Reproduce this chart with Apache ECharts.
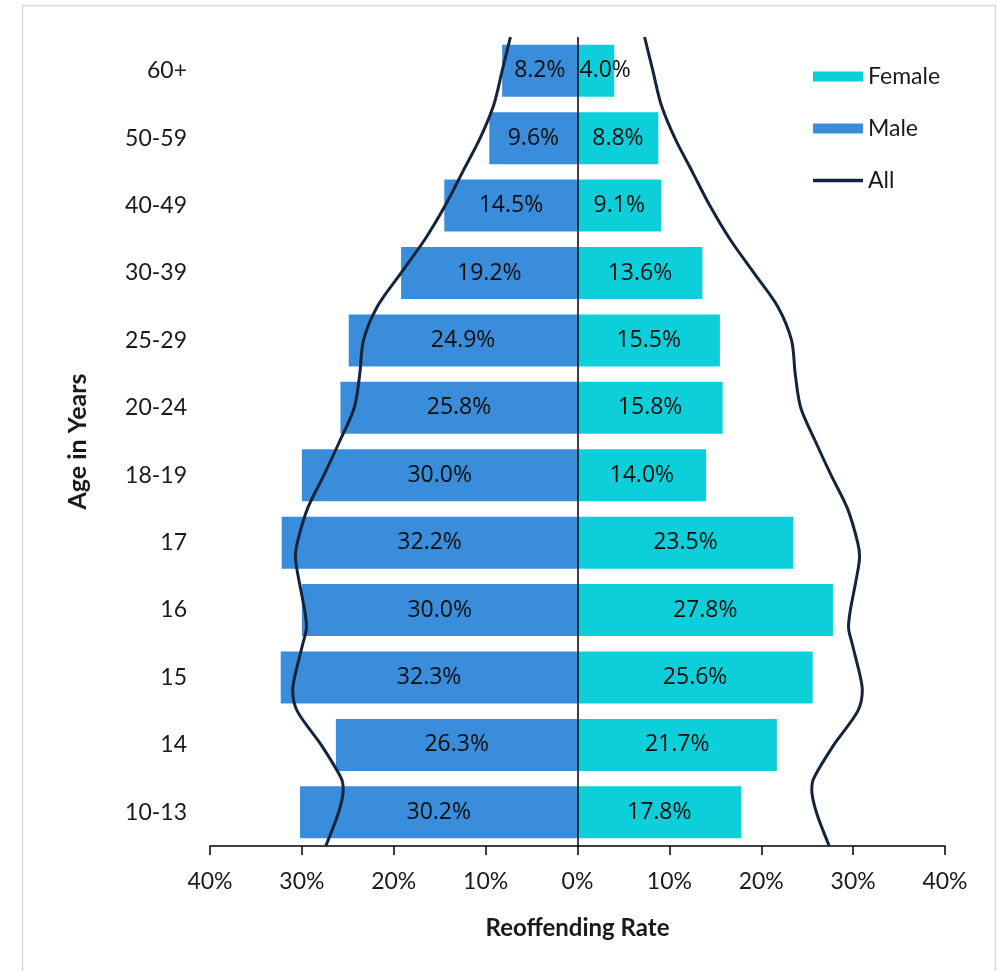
<!DOCTYPE html>
<html>
<head>
<meta charset="utf-8">
<script src="https://cdn.jsdelivr.net/npm/echarts@6/dist/echarts.min.js"></script>
<style>
  html, body { margin: 0; padding: 0; background: #ffffff; }
  #chart { width: 997px; height: 971px; }
</style>
</head>
<body>
<div id="chart"></div>
<script>
// Age groups, top to bottom
const ageGroups = ['60+', '50-59', '40-49', '30-39', '25-29', '20-24', '18-19', '17', '16', '15', '14', '10-13'];
// Reoffending rates (%)
const maleRate   = [8.2, 9.6, 14.5, 19.2, 24.9, 25.8, 30.0, 32.2, 30.0, 32.3, 26.3, 30.2];
const femaleRate = [4.0, 8.8, 9.1, 13.6, 15.5, 15.8, 14.0, 23.5, 27.8, 25.6, 21.7, 17.8];

// Overall rate curve: vertical position in age bands (0 = bottom edge, 12 = top edge) and rate (%)
const allPos  = [0, 0.5, 0.83, 1, 1.5, 2, 2.31, 2.5, 3, 3.25, 3.5, 4, 4.29, 4.5, 5, 5.5, 6, 6.5, 7, 7.5, 8, 8.5, 9, 9.5, 10, 10.5, 11, 11.5, 12];
const allRate = [27.4, 26.0, 25.5, 25.7, 27.9, 30.5, 31.0, 30.8, 29.9, 29.5, 29.7, 30.4, 30.7, 30.5, 29.4, 27.6, 25.9, 24.3, 23.7, 23.3, 21.8, 19.2, 16.6, 14.4, 12.5, 10.6, 9.1, 8.2, 7.3];

// Axis ticks (%)
const rateMin = -40, rateMax = 40, rateStep = 10;

const AXIS_FONT = 'Lato, "DejaVu Sans", sans-serif';
const LABEL_FONT = '"Open Sans", "Liberation Sans", sans-serif';
const MALE = '#3A8DDA';
const FEMALE = '#0DCFDA';
const LINE = '#14243A';

const chart = echarts.init(document.getElementById('chart'), null, { renderer: 'canvas' });

const barLabel = {
  show: true,
  position: 'inside',
  color: '#0d0d0d',
  fontFamily: LABEL_FONT,
  fontSize: 23
};

const femaleData = femaleRate.map(v => v < 5
  ? { value: v, label: { position: 'insideLeft', distance: 2 } }
  : v);

chart.setOption({
  animation: false,
  backgroundColor: '#ffffff',
  graphic: [{
    type: 'rect',
    shape: { x: 22.5, y: 5.5, width: 973, height: 1000 },
    style: { fill: 'none', stroke: '#d9d9d9', lineWidth: 1.5 },
    silent: true, z: -10
  }],
  grid: { left: 210, right: 52, top: 37, bottom: 125, containLabel: false },
  legend: {
    orient: 'vertical',
    left: 808,
    top: 60,
    itemWidth: 50,
    itemHeight: 10,
    itemGap: 29,
    textStyle: { fontFamily: AXIS_FONT, fontSize: 23, color: '#1a1a1a', lineHeight: 23 },
    data: [
      { name: 'Female', icon: 'rect' },
      { name: 'Male', icon: 'rect' },
      { name: 'All', icon: 'path://M0,0 L50,0 L50,3.5 L0,3.5 Z' }
    ]
  },
  xAxis: {
    type: 'value',
    min: rateMin,
    max: rateMax,
    interval: rateStep,
    name: 'Reoffending Rate',
    nameLocation: 'middle',
    nameGap: 70,
    nameTextStyle: { fontFamily: AXIS_FONT, fontSize: 24, fontWeight: 'bold', color: '#1a1a1a' },
    axisLine: { show: true, onZero: false, lineStyle: { color: '#000', width: 1.5 } },
    axisTick: { show: true, length: 9, lineStyle: { color: '#000', width: 1.5 } },
    axisLabel: {
      margin: 24,
      fontFamily: AXIS_FONT, fontSize: 23, color: '#1a1a1a',
      formatter: v => Math.abs(v) + '%'
    },
    splitLine: { show: false }
  },
  yAxis: [{
    type: 'category',
    data: ageGroups,
    inverse: true,
    name: 'Age in Years',
    nameLocation: 'middle',
    nameGap: 120,
    nameRotate: 90,
    nameTextStyle: { fontFamily: AXIS_FONT, fontSize: 25, fontWeight: 'bold', color: '#1a1a1a' },
    axisLine: { show: false },
    axisTick: { show: false },
    axisLabel: { margin: 23, fontFamily: AXIS_FONT, fontSize: 23, color: '#1a1a1a' }
  }, {
    type: 'value',
    min: 0,
    max: 12,
    show: false
  }],
  series: [
    {
      name: 'Male',
      type: 'bar',
      yAxisIndex: 0,
      data: maleRate.map(v => -v),
      barWidth: 52,
      barGap: '-100%',
      itemStyle: { color: MALE },
      label: Object.assign({}, barLabel, {
        formatter: p => Math.abs(p.value).toFixed(1) + '%'
      }),
      z: 2
    },
    {
      name: 'Female',
      type: 'bar',
      yAxisIndex: 0,
      data: femaleData,
      barWidth: 52,
      barGap: '-100%',
      itemStyle: { color: FEMALE },
      label: Object.assign({}, barLabel, {
        formatter: p => Number(p.value).toFixed(1) + '%'
      }),
      markLine: {
        silent: true,
        symbol: 'none',
        label: { show: false },
        lineStyle: { color: '#000', width: 1.5, type: 'solid' },
        data: [{ xAxis: 0 }]
      },
      z: 2
    },
    {
      name: 'All',
      type: 'line',
      yAxisIndex: 1,
      data: allRate.map((r, i) => [r, allPos[i]]),
      smooth: 0.3,
      symbol: 'none',
      lineStyle: { color: LINE, width: 3 },
      itemStyle: { color: LINE },
      z: 5
    },
    {
      name: 'All',
      type: 'line',
      yAxisIndex: 1,
      data: allRate.map((r, i) => [-r, allPos[i]]),
      smooth: 0.3,
      symbol: 'none',
      lineStyle: { color: LINE, width: 3 },
      itemStyle: { color: LINE },
      z: 5
    }
  ]
});
</script>
</body>
</html>
